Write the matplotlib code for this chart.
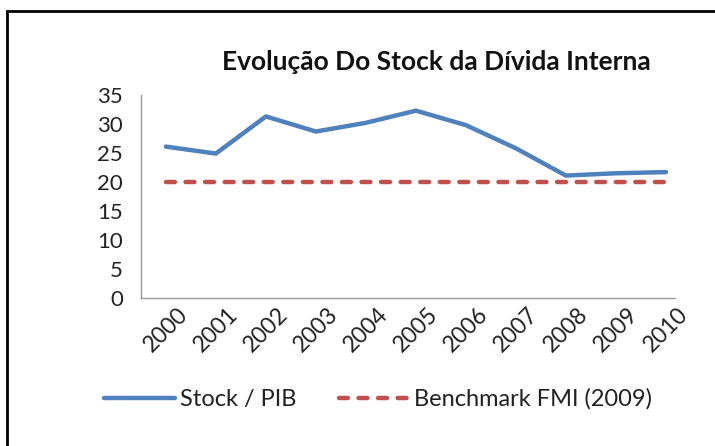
import matplotlib.pyplot as plt
import matplotlib.transforms as mtransforms
from matplotlib.patches import Rectangle

# dados
anos = ['2000', '2001', '2002', '2003', '2004', '2005',
        '2006', '2007', '2008', '2009', '2010']
stock_pib = [26.1, 24.9, 31.3, 28.7, 30.2, 32.3, 29.8, 25.8, 21.1, 21.5, 21.7]
benchmark = [20, 20, 20, 20, 20, 20, 20, 20, 20, 20, 20]

plt.rcParams['font.family'] = ['Lato', 'DejaVu Sans']

fig = plt.figure(figsize=(7.15, 4.46), dpi=100)
ax = fig.add_axes([0.197, 0.332, 0.747, 0.455])

x = list(range(len(anos)))
ax.plot(x, stock_pib, color='#4F81BD', lw=3.2, label='Stock / PIB',
        solid_capstyle='round')
ax.plot(x, benchmark, color='#C0504D', lw=3.2, ls=(0, (2, 2.4)),
        label='Benchmark FMI (2009)', dash_capstyle='round')

ax.set_xlim(-0.5, 10.18)
ax.set_ylim(0, 35)
ax.set_yticks(range(0, 36, 5))
ax.set_xticks(x)
ax.set_xticklabels(anos, rotation=45, ha='right', rotation_mode='anchor')
ax.tick_params(length=0, labelsize=16, colors='#222222')
ax.tick_params(axis='y', pad=13)
ax.tick_params(axis='x', pad=4, labelsize=16.5)

# desloca um pouco os rótulos do eixo x para a direita
desloc = mtransforms.ScaledTranslation(11 / 100, 0, fig.dpi_scale_trans)
for lbl in ax.get_xticklabels():
    lbl.set_transform(lbl.get_transform() + desloc)

for s in ['top', 'right']:
    ax.spines[s].set_visible(False)
for s in ['left', 'bottom']:
    ax.spines[s].set_color('#9a9a9a')
    ax.spines[s].set_linewidth(1)

fig.text(0.6105, 0.861, 'Evolução Do Stock da Dívida Interna', ha='center',
         va='center', fontsize=19, fontweight='bold', color='#111111')

fig.legend(loc='center', bbox_to_anchor=(0.529, 0.105), ncol=2, frameon=False,
           fontsize=17, handlelength=3.0, handletextpad=0.2, columnspacing=1.8,
           labelcolor='#222222')

# moldura
fig.patches.append(Rectangle((7 / 715, -0.05), 1.2, 1 - 11 / 446 + 0.05,
                             transform=fig.transFigure, fill=False,
                             edgecolor='black', lw=2))

fig.savefig('out.png', dpi=100)
